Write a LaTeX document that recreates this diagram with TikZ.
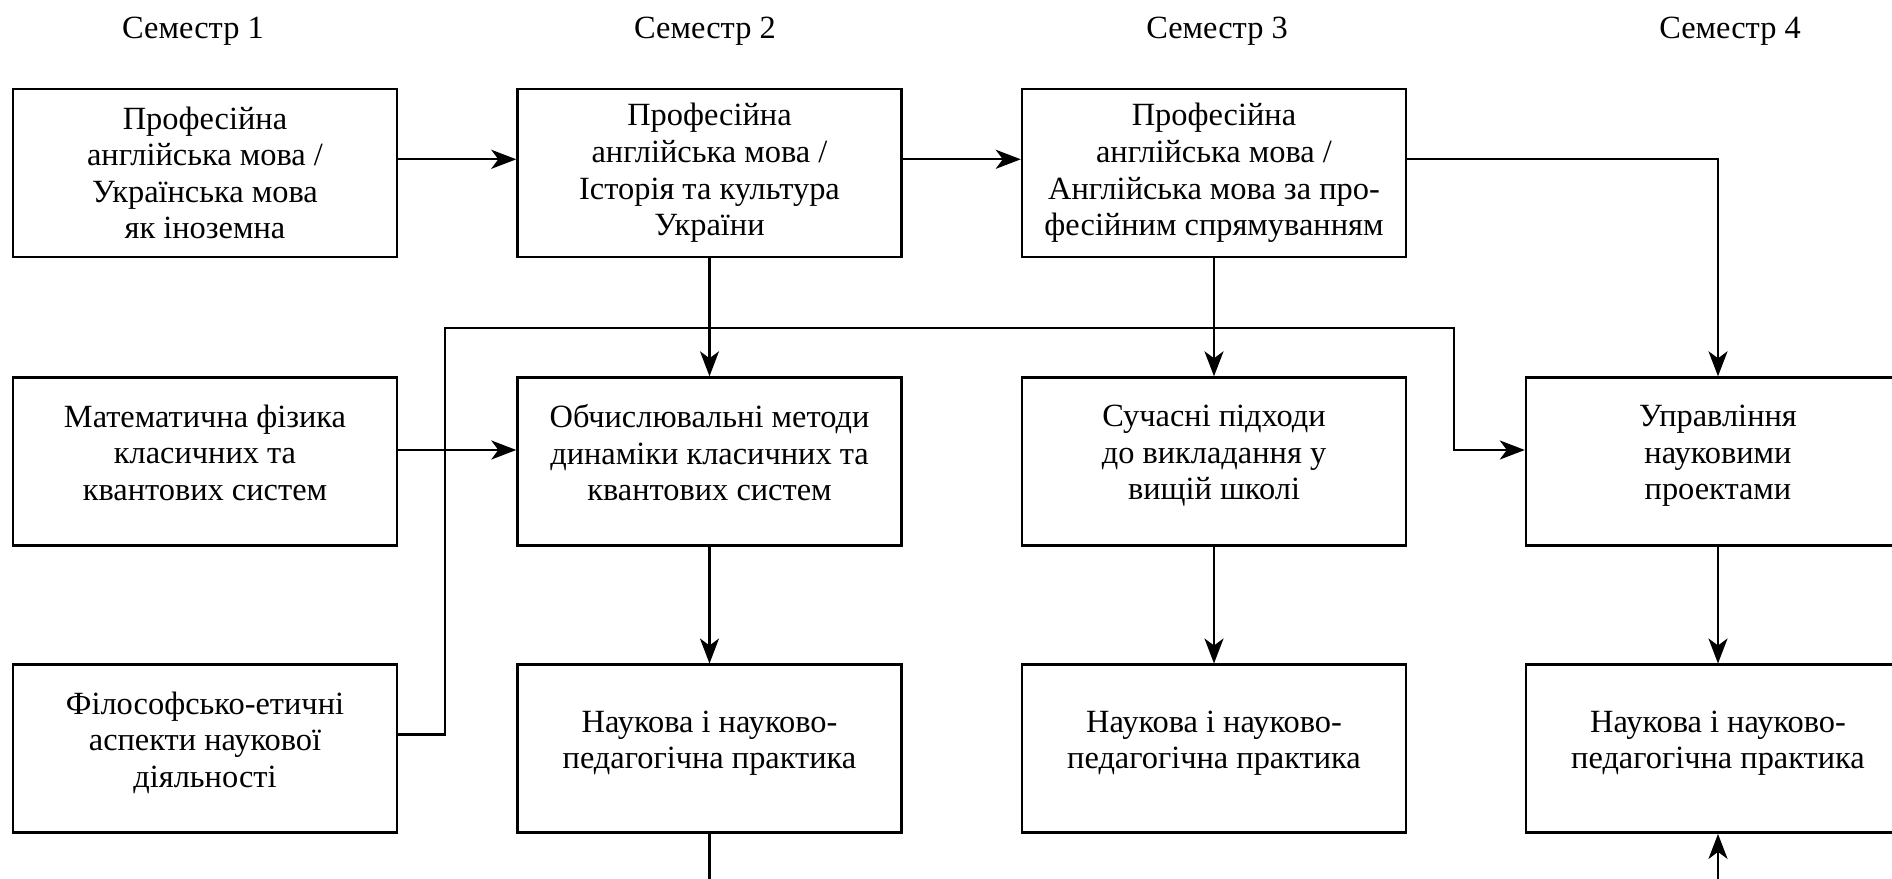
\documentclass[tikz,border=0pt]{standalone}
\usepackage{fontspec}
\setmainfont{Liberation Serif}
\usetikzlibrary{arrows.meta}

\begin{document}
\begin{tikzpicture}[line cap=rect,line join=miter,>={Stealth[length=12.5pt,width=9.5pt,inset=3.5pt]},x=0.5pt,y=0.5pt,
  line width=1.2pt,
  sem/.style={font=\fontsize{16.2}{18.3}\selectfont},
  course/.style={draw, line width=1.2pt, minimum width=192pt, minimum height=84pt, inner sep=2pt,
    align=center, font=\fontsize{16.2}{18.3}\selectfont},
  lifted/.style={execute at end node={\rule[-9pt]{0pt}{0pt}}},
  dropped/.style={execute at begin node={\rule{0pt}{19pt}}}]
\useasboundingbox (0,0) rectangle (1892,879);
% semesters
\node[sem] (sem1) at (193,848) {Семестр 1};
\node[sem] (sem2) at (705,848) {Семестр 2};
\node[sem] (sem3) at (1217,848) {Семестр 3};
\node[sem] (sem4) at (1730,848) {Семестр 4};
% first row
\node[course,dropped] (eng1) at (205,706) {Професійна\\англійська мова /\\Українська мова\\як іноземна};
\node[course,dropped] (eng2) at (709.5,706) {Професійна\\англійська мова /\\Історія та культура\\України};
\node[course,dropped] (eng3) at (1214,706) {Професійна\\англійська мова /\\Англійська мова за про-\\фесійним спрямуванням};
% second row
\node[course,lifted] (mph) at (205,417.5) {Математична фізика\\класичних та\\квантових систем};
\node[course,lifted] (comp) at (709.5,417.5) {Обчислювальні методи\\динаміки класичних та\\квантових систем};
\node[course,lifted] (teach) at (1214,417.5) {Сучасні підходи\\до викладання у\\вищій школі};
\node[course,lifted] (mgmt) at (1718,417.5) {Управління\\науковими\\проектами};
% third row
\node[course,lifted] (phil) at (205,130.3) {Філософсько-етичні\\аспекти наукової\\діяльності};
\node[course,lifted] (prac2) at (709.5,130.3) {Наукова і науково-\\педагогічна практика};
\node[course,lifted] (prac3) at (1214,130.3) {Наукова і науково-\\педагогічна практика};
\node[course,lifted] (prac4) at (1718,130.3) {Наукова і науково-\\педагогічна практика};
% bus and free ends
\coordinate (busl) at (445,550.8);
\coordinate (busr) at (1454,550.8);
\coordinate (low2) at (709.5,0);
\coordinate (low4) at (1718,0);
% connectors
\draw[->] ([yshift=6.85pt]eng1.east) -- ([yshift=6.85pt]eng2.west);
\draw[->] ([yshift=6.85pt]eng2.east) -- ([yshift=6.85pt]eng3.west);
\draw[->] ([yshift=6.85pt]eng3.east) -| (mgmt.north);
\draw[->] (eng2.south) -- (comp.north);
\draw[->] (eng3.south) -- (teach.north);
\draw[->] ([yshift=5.75pt]mph.east) -- ([yshift=5.75pt]comp.west);
\draw[->] ([yshift=7pt]phil.east) -| (busl) -- (busr) |- ([yshift=5.75pt]mgmt.west);
\draw[->] (comp.south) -- (prac2.north);
\draw[->] (teach.south) -- (prac3.north);
\draw[->] (mgmt.south) -- (prac4.north);
\draw (prac2.south) -- (low2);
\draw[->] (low4) -- (prac4.south);
\end{tikzpicture}
\end{document}
